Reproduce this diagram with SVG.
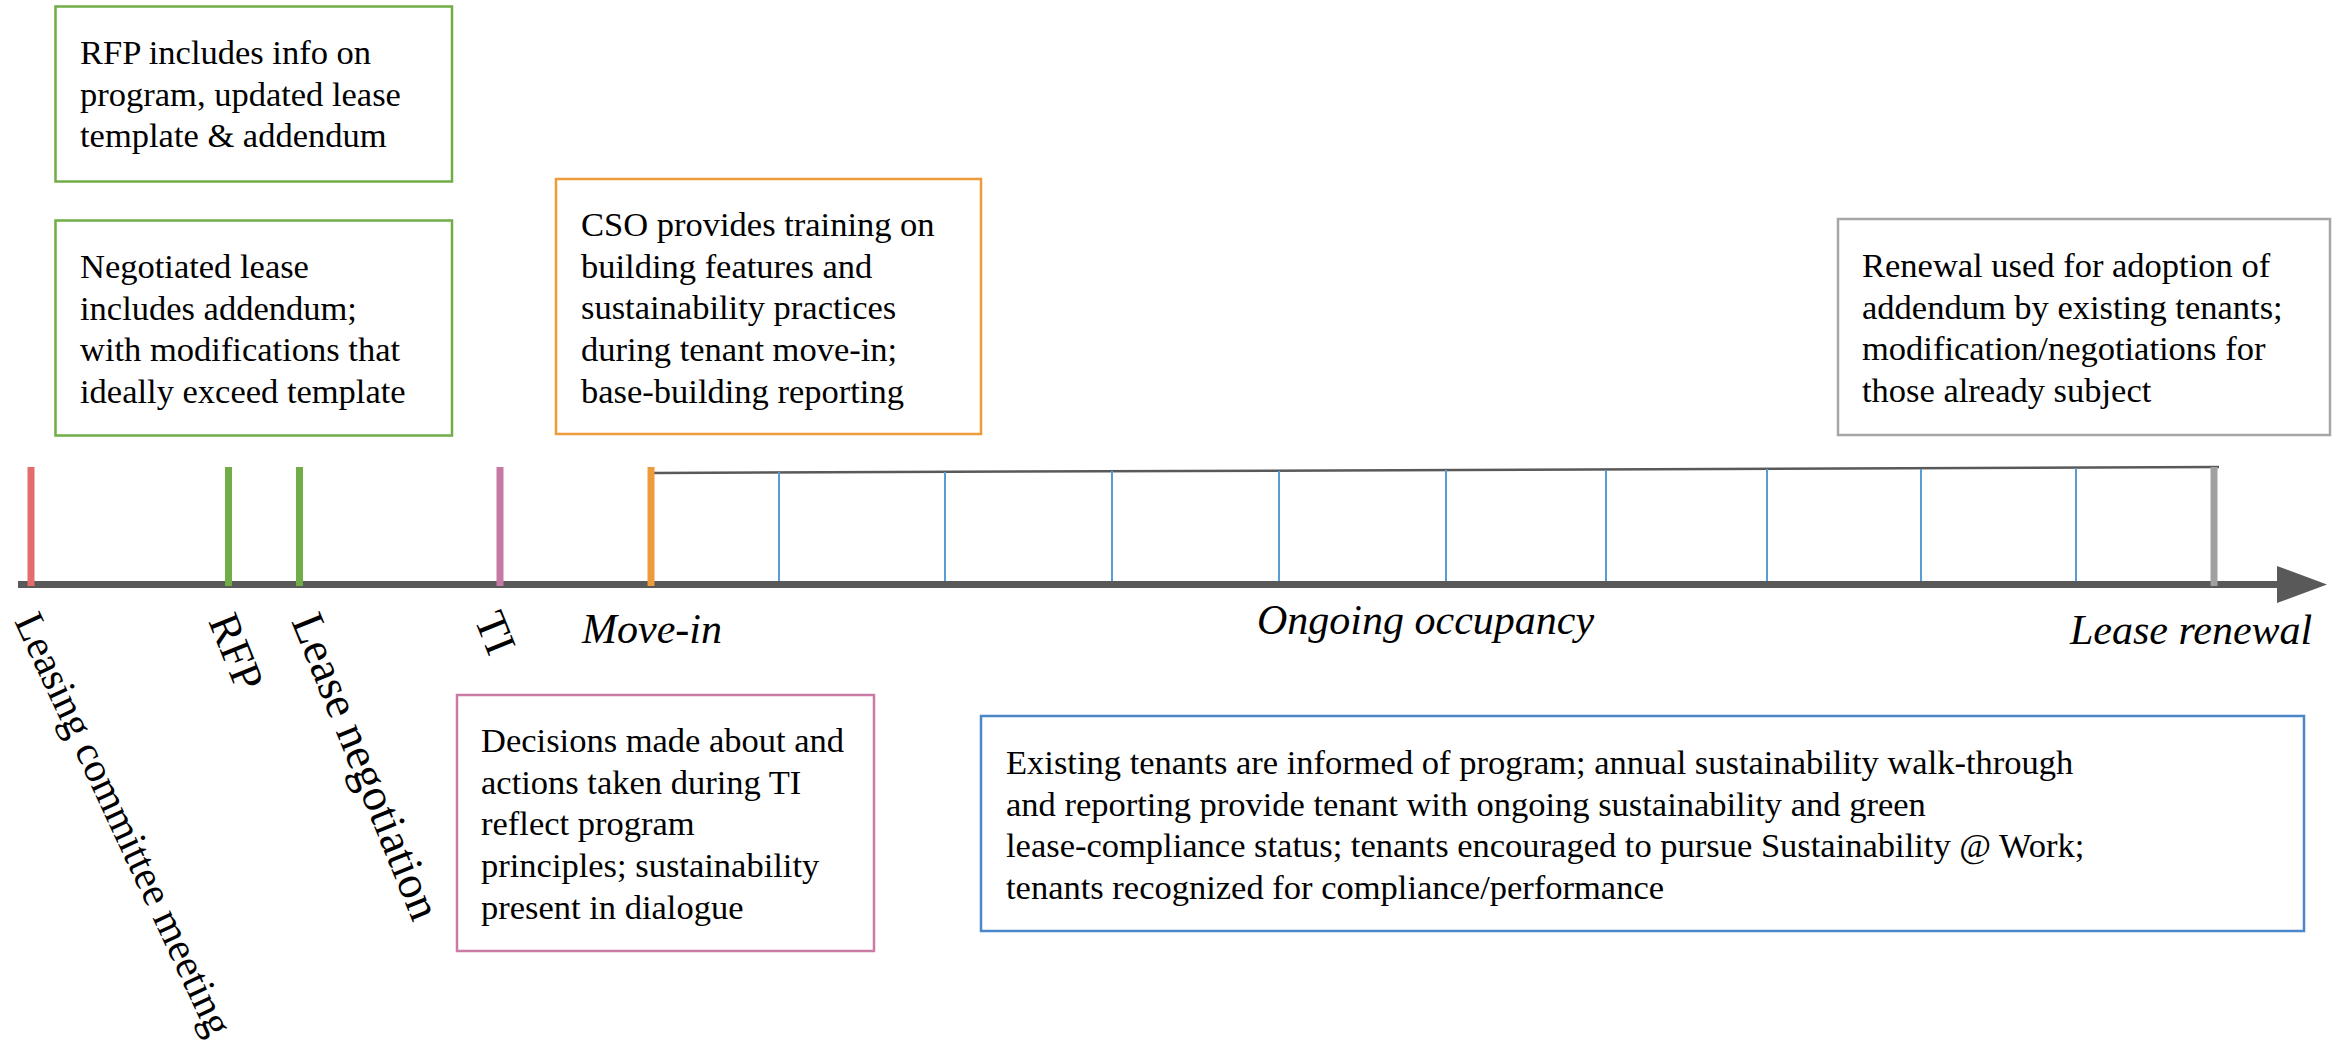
<svg xmlns="http://www.w3.org/2000/svg" width="2349" height="1044" viewBox="0 0 2349 1044">
<style>
.box{fill:#ffffff;stroke-width:2.5}
.bt{font-family:"Liberation Serif","Times New Roman",serif;font-size:34.5px;fill:#000}
.ax{font-family:"Liberation Serif","Times New Roman",serif;font-size:42px;font-style:italic;fill:#000}
.rl{font-family:"Liberation Serif","Times New Roman",serif;font-size:44px;fill:#000}
.tick{stroke-width:7}
.yr{stroke:#5B9BD5;stroke-width:2}
</style>
<rect width="2349" height="1044" fill="#ffffff"/>
<g id="connectors">
  <line x1="653" y1="473" x2="2219" y2="467" stroke="#595959" stroke-width="2.5"/>
  <g id="year-ticks">
    <line class="yr" x1="779" y1="472" x2="779" y2="587"/>
    <line class="yr" x1="945" y1="472" x2="945" y2="587"/>
    <line class="yr" x1="1112" y1="471" x2="1112" y2="587"/>
    <line class="yr" x1="1279" y1="471" x2="1279" y2="587"/>
    <line class="yr" x1="1446" y1="470" x2="1446" y2="587"/>
    <line class="yr" x1="1606" y1="470" x2="1606" y2="587"/>
    <line class="yr" x1="1767" y1="469" x2="1767" y2="587"/>
    <line class="yr" x1="1921" y1="469" x2="1921" y2="587"/>
    <line class="yr" x1="2076" y1="468" x2="2076" y2="587"/>
  </g>
  <line id="axis" x1="18" y1="584.5" x2="2280" y2="584.5" stroke="#595959" stroke-width="7"/>
  <polygon points="2277,566 2327,584.5 2277,603" fill="#595959"/>
</g>
<g id="milestones">
  <line id="t-leasing" class="tick" x1="31" y1="467" x2="31" y2="586" stroke="#E46C6C"/>
  <line id="t-rfp" class="tick" x1="228.5" y1="467" x2="228.5" y2="586" stroke="#70AD47"/>
  <line id="t-negotiation" class="tick" x1="299.5" y1="467" x2="299.5" y2="586" stroke="#70AD47"/>
  <line id="t-ti" class="tick" x1="500" y1="467" x2="500" y2="586" stroke="#C678A4"/>
  <line id="t-movein" class="tick" x1="651" y1="467" x2="651" y2="586" stroke="#EE9B3B"/>
  <line id="t-renewal" class="tick" x1="2214" y1="467" x2="2214" y2="586" stroke="#A0A0A0"/>
</g>
<g id="labels">
  <text id="l-leasing" class="rl" style="font-size:41.5px" transform="translate(14,621) rotate(65)">Leasing committee meeting</text>
  <text id="l-rfp" class="rl" transform="translate(208,621) rotate(68)">RFP</text>
  <text id="l-negotiation" class="rl" style="font-size:46px" transform="translate(291,621) rotate(68)">Lease negotiation</text>
  <text id="l-ti" class="rl" transform="translate(474,619) rotate(68)">TI</text>
  <text id="l-movein" class="ax" x="582" y="643">Move-in</text>
  <text id="l-ongoing" class="ax" x="1257" y="634">Ongoing occupancy</text>
  <text id="l-renewal" class="ax" x="2070" y="644">Lease renewal</text>
</g>
<g id="box-rfp">
  <rect class="box" x="55.5" y="6.5" width="396.5" height="175" stroke="#70AD47"/>
  <text class="bt" x="80" y="64"><tspan x="80">RFP includes info on</tspan><tspan x="80" dy="41.7">program, updated lease</tspan><tspan x="80" dy="41.7">template &amp; addendum</tspan></text>
</g>
<g id="box-negotiation">
  <rect class="box" x="55.5" y="220.5" width="396.5" height="215" stroke="#70AD47"/>
  <text class="bt" x="80" y="278"><tspan x="80">Negotiated lease</tspan><tspan x="80" dy="41.7">includes addendum;</tspan><tspan x="80" dy="41.7">with modifications that</tspan><tspan x="80" dy="41.7">ideally exceed template</tspan></text>
</g>
<g id="box-movein">
  <rect class="box" x="556" y="179" width="425" height="255" stroke="#EE9B3B"/>
  <text class="bt" x="581" y="236"><tspan x="581">CSO provides training on</tspan><tspan x="581" dy="41.7">building features and</tspan><tspan x="581" dy="41.7">sustainability practices</tspan><tspan x="581" dy="41.7">during tenant move-in;</tspan><tspan x="581" dy="41.7">base-building reporting</tspan></text>
</g>
<g id="box-renewal">
  <rect class="box" x="1838" y="219" width="492" height="216" stroke="#A6A6A6"/>
  <text class="bt" x="1862" y="277"><tspan x="1862">Renewal used for adoption of</tspan><tspan x="1862" dy="41.7">addendum by existing tenants;</tspan><tspan x="1862" dy="41.7">modification/negotiations for</tspan><tspan x="1862" dy="41.7">those already subject</tspan></text>
</g>
<g id="box-ti">
  <rect class="box" x="457" y="695" width="417" height="256" stroke="#C97BA6"/>
  <text class="bt" x="481" y="752"><tspan x="481">Decisions made about and</tspan><tspan x="481" dy="41.7">actions taken during TI</tspan><tspan x="481" dy="41.7">reflect program</tspan><tspan x="481" dy="41.7">principles; sustainability</tspan><tspan x="481" dy="41.7">present in dialogue</tspan></text>
</g>
<g id="box-ongoing">
  <rect class="box" x="981" y="716" width="1323" height="215" stroke="#4A86C8"/>
  <text class="bt" x="1006" y="774"><tspan x="1006">Existing tenants are informed of program; annual sustainability walk-through</tspan><tspan x="1006" dy="41.7">and reporting provide tenant with ongoing sustainability and green</tspan><tspan x="1006" dy="41.7">lease-compliance status; tenants encouraged to pursue Sustainability @ Work;</tspan><tspan x="1006" dy="41.7">tenants recognized for compliance/performance</tspan></text>
</g>
</svg>
